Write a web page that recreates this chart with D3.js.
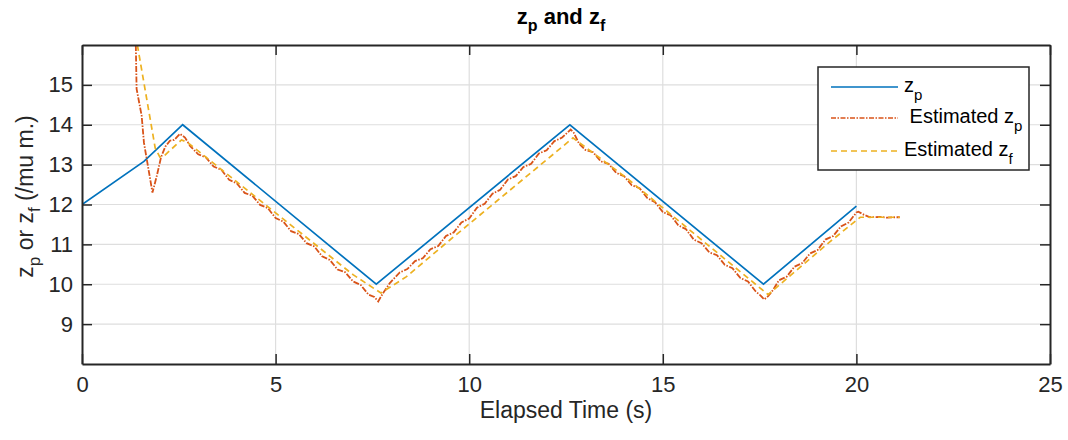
<!DOCTYPE html>
<html>
<head>
<meta charset="utf-8">
<script src="https://cdn.jsdelivr.net/npm/d3@7"></script>
<style>
  html, body { margin: 0; padding: 0; background: #fff; }
  svg { display: block; font-family: "Liberation Sans", Arial, Helvetica, sans-serif; }
</style>
</head>
<body>
<svg id="chart" width="1068" height="440"></svg>
<script>
// Axis ranges and ticks
const xDomain = [0, 25];
const yDomain = [8, 16];
const xTicks = [0, 5, 10, 15, 20, 25];
const yTicks = [9, 10, 11, 12, 13, 14, 15];

// z_p: commanded position (s, value)
const zpTime  = [0, 1.6, 2.6, 7.6, 12.6, 17.6, 20.0];
const zpValue = [12.0, 13.08, 14.0, 10.0, 14.0, 10.0, 11.96];

// Estimated z_p
const estZpTime = [
  1.39, 1.41, 1.54, 1.60, 1.82, 1.93, 2.04, 2.15, 2.27, 2.38, 2.53, 2.66, 2.79,
  3.0, 3.2, 3.4, 3.6, 3.8, 4.0, 4.2, 4.4, 4.6, 4.8, 5.0, 5.2, 5.4, 5.6, 5.8,
  6.0, 6.2, 6.4, 6.6, 6.8, 7.0, 7.2, 7.4, 7.55, 7.65, 7.77, 7.95,
  8.2, 8.4, 8.6, 8.8, 9.0, 9.2, 9.4, 9.6, 9.8, 10.0, 10.2, 10.4, 10.6, 10.8,
  11.0, 11.2, 11.4, 11.6, 11.8, 12.0, 12.2, 12.4, 12.62, 12.7, 12.84,
  13.0, 13.2, 13.4, 13.6, 13.8, 14.0, 14.2, 14.4, 14.6, 14.8, 15.0, 15.2, 15.4,
  15.6, 15.8, 16.0, 16.2, 16.4, 16.6, 16.8, 17.0, 17.2, 17.4, 17.52, 17.62,
  17.72, 17.85, 18.0, 18.2, 18.4, 18.6, 18.8, 19.0, 19.2, 19.4, 19.6, 19.8,
  20.0, 20.05, 20.2, 20.35, 20.6, 20.8, 21.0, 21.12
];
const estZpValue = [
  16.0, 14.9, 14.23, 13.55, 12.3, 12.71, 13.18, 13.45, 13.6, 13.62, 13.77, 13.68, 13.47,
  13.26, 13.18, 12.95, 12.87, 12.62, 12.53, 12.29, 12.22, 11.99, 11.91, 11.66, 11.57, 11.33, 11.26, 11.03,
  10.95, 10.70, 10.61, 10.37, 10.30, 10.07, 9.98, 9.74, 9.68, 9.57, 9.77, 10.03,
  10.29, 10.38, 10.58, 10.65, 10.88, 10.96, 11.21, 11.30, 11.55, 11.65, 11.92, 12.02, 12.27, 12.37,
  12.63, 12.71, 12.94, 13.02, 13.28, 13.36, 13.59, 13.68, 13.88, 13.80, 13.52,
  13.37, 13.31, 13.08, 13.02, 12.79, 12.71, 12.48, 12.41, 12.16, 12.06, 11.81, 11.73, 11.48,
  11.38, 11.12, 11.03, 10.80, 10.73, 10.49, 10.40, 10.16, 10.07, 9.82, 9.72, 9.62,
  9.70, 9.86, 10.10, 10.19, 10.44, 10.53, 10.77, 10.86, 11.12, 11.21, 11.45, 11.55,
  11.80, 11.82, 11.74, 11.68, 11.69, 11.67, 11.68, 11.68
];

// Estimated z_f
const estZfTime  = [1.43, 1.89, 2.01, 2.12, 2.57, 2.72, 7.0, 7.72, 8.38, 9.5, 12.68, 14.07, 17.72, 19.32, 20.1, 21.12];
const estZfValue = [16.0, 13.42, 13.19, 13.22, 13.62, 13.56, 10.24, 9.78, 10.19, 11.11, 13.67, 12.66, 9.74, 11.07, 11.68, 11.68];

const seriesNames = ["z_p", "Estimated z_p", "Estimated z_f"];

const colors = { zp: "#0072BD", estZp: "#D95319", estZf: "#EDB120" };
const axisColor = "#262626";

const svg = d3.select("#chart");
const m = { left: 82, right: 1050, top: 45, bottom: 364 };

const x = d3.scaleLinear().domain(xDomain).range([m.left, m.right]);
const y = d3.scaleLinear().domain(yDomain).range([m.bottom, m.top]);

// Grid
const grid = svg.append("g");
grid.selectAll("line.gx").data(xTicks.slice(1, -1)).join("line")
  .attr("x1", d => x(d)).attr("x2", d => x(d))
  .attr("y1", m.top).attr("y2", m.bottom)
  .attr("stroke", "#dedede").attr("stroke-width", 1.2);
grid.selectAll("line.gy").data(yTicks).join("line")
  .attr("x1", m.left).attr("x2", m.right)
  .attr("y1", d => y(d)).attr("y2", d => y(d))
  .attr("stroke", "#dedede").attr("stroke-width", 1.2);

// Clip region for data lines
svg.append("clipPath").attr("id", "plotClip")
  .append("rect").attr("x", m.left).attr("y", m.top)
  .attr("width", m.right - m.left).attr("height", m.bottom - m.top);

const line = d3.line().x(d => x(d[0])).y(d => y(d[1]));
const zip = (a, b) => a.map((t, i) => [t, b[i]]);

const plot = svg.append("g").attr("clip-path", "url(#plotClip)");
plot.append("path").datum(zip(zpTime, zpValue))
  .attr("d", line).attr("fill", "none")
  .attr("stroke", colors.zp).attr("stroke-width", 1.7);
plot.append("path").datum(zip(estZpTime, estZpValue))
  .attr("d", line).attr("fill", "none")
  .attr("stroke", colors.estZp).attr("stroke-width", 1.8)
  .attr("stroke-dasharray", "6,1.5,1.5,1.5");
plot.append("path").datum(zip(estZfTime, estZfValue))
  .attr("d", line).attr("fill", "none")
  .attr("stroke", colors.estZf).attr("stroke-width", 1.7)
  .attr("stroke-dasharray", "6,4");

// Axes (box with inward ticks on all four sides)
const tickLen = 10;
const axes = svg.append("g");
const xb = axes.append("g").attr("transform", `translate(0,${m.bottom})`)
  .call(d3.axisBottom(x).tickValues(xTicks).tickSizeInner(-tickLen).tickSizeOuter(0).tickPadding(12));
const xt = axes.append("g").attr("transform", `translate(0,${m.top})`)
  .call(d3.axisTop(x).tickValues(xTicks).tickSizeInner(-tickLen).tickSizeOuter(0).tickFormat(""));
const yl = axes.append("g").attr("transform", `translate(${m.left},0)`)
  .call(d3.axisLeft(y).tickValues(yTicks).tickSizeInner(-tickLen).tickSizeOuter(0).tickPadding(9));
const yr = axes.append("g").attr("transform", `translate(${m.right},0)`)
  .call(d3.axisRight(y).tickValues(yTicks).tickSizeInner(-tickLen).tickSizeOuter(0).tickFormat(""));

[xb, xt, yl, yr].forEach(g => {
  g.select(".domain").attr("stroke", axisColor).attr("stroke-width", 2);
  g.selectAll(".tick line").attr("stroke", axisColor).attr("stroke-width", 1.5);
  g.selectAll(".tick text").attr("fill", "#262626")
    .attr("font-size", 22).attr("font-family", "'Liberation Sans', Arial, sans-serif");
});

// Title
const title = svg.append("text").attr("x", (m.left + m.right) / 2 - 5).attr("y", 24)
  .attr("text-anchor", "middle").attr("font-weight", "bold").attr("font-size", 22).attr("fill", "#000");
title.append("tspan").text("z");
title.append("tspan").attr("dy", 7).attr("font-size", 16).text("p");
title.append("tspan").attr("dy", -7).text(" and z");
title.append("tspan").attr("dy", 7).attr("font-size", 16).text("f");

// X label
svg.append("text").attr("x", (m.left + m.right) / 2).attr("y", 418)
  .attr("text-anchor", "middle").attr("font-size", 23).attr("fill", "#262626")
  .text("Elapsed Time (s)");

// Y label
const ylab = svg.append("text")
  .attr("transform", `translate(33,${(m.top + m.bottom) / 2 - 8}) rotate(-90)`)
  .attr("text-anchor", "middle").attr("font-size", 23).attr("fill", "#262626");
ylab.append("tspan").text("z");
ylab.append("tspan").attr("dy", 7).attr("font-size", 17).text("p");
ylab.append("tspan").attr("dy", -7).text(" or z");
ylab.append("tspan").attr("dy", 7).attr("font-size", 17).text("f");
ylab.append("tspan").attr("dy", -7).text(" (/mu m.)");

// Legend
const lg = svg.append("g");
lg.append("rect").attr("x", 818).attr("y", 67).attr("width", 211).attr("height", 103)
  .attr("fill", "#fff").attr("stroke", axisColor).attr("stroke-width", 1.5);
const legendRows = [
  { name: seriesNames[0], color: colors.zp, dash: null, y: 87, tx: 904, label: ["z", "p"] },
  { name: seriesNames[1], color: colors.estZp, dash: "5,1.5,1.5,1.5", y: 118, tx: 904, label: ["\u00a0Estimated z", "p"] },
  { name: seriesNames[2], color: colors.estZf, dash: "6,4", y: 151, tx: 904, label: ["Estimated z", "f"] }
];
legendRows.forEach(r => {
  lg.append("line").attr("x1", 831).attr("x2", 898).attr("y1", r.y).attr("y2", r.y)
    .attr("stroke", r.color).attr("stroke-width", 1.6)
    .attr("stroke-dasharray", r.dash);
  const t = lg.append("text").attr("x", r.tx).attr("y", r.y + 5)
    .attr("font-size", 20).attr("fill", "#000");
  t.append("tspan").text(r.label[0]);
  t.append("tspan").attr("dy", 8).attr("font-size", 15).text(r.label[1]);
});
</script>
</body>
</html>
